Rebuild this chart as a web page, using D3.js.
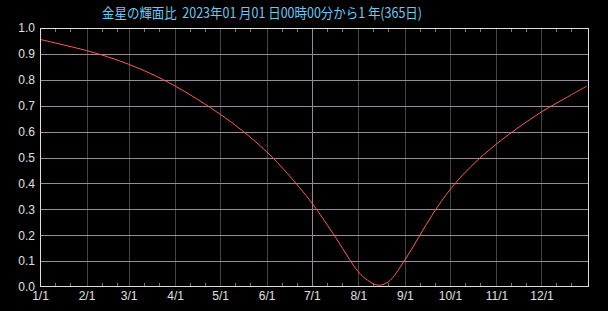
<!DOCTYPE html>
<html>
<head>
<meta charset="utf-8">
<script src="https://cdn.jsdelivr.net/npm/d3@7"></script>
<style>
  body { margin: 0; background: #000; }
  svg { display: block; }
</style>
</head>
<body>
<div id="root"></div>
<script>
// values
var dates = ["2023-01-01","2023-01-15","2023-02-01","2023-02-15","2023-03-01","2023-03-15",
             "2023-04-01","2023-04-15","2023-05-01","2023-05-15","2023-06-01","2023-06-15",
             "2023-07-01","2023-07-15","2023-08-01","2023-08-07","2023-08-14","2023-08-21",
             "2023-09-01","2023-09-10","2023-09-20","2023-10-01","2023-10-15","2023-11-01",
             "2023-11-15","2023-12-01","2023-12-15","2023-12-31"];
var phase = [0.956,0.937,0.913,0.889,0.860,0.826,
             0.776,0.728,0.667,0.607,0.522,0.437,
             0.325,0.208,0.059,0.027,0.007,0.020,
             0.104,0.190,0.285,0.375,0.465,0.552,
             0.613,0.676,0.723,0.775];
var yTicks = [0, 0.1, 0.2, 0.3, 0.4, 0.5, 0.6, 0.7, 0.8, 0.9, 1.0];
var title = "金星の輝面比\u00a0\u00a02023年01 月01 日00時00分から1 年(365日)";

var W = 608, H = 311;
var margin = {top: 28, right: 20, bottom: 24, left: 40},
    width = 548,
    height = 259;

var parse = d3.timeParse("%Y-%m-%d");
var data = dates.map(function (d, i) { return {date: parse(d), v: phase[i]}; });

var svg = d3.select("#root")
  .append("svg")
  .attr("width", W)
  .attr("height", H)
  .style("background", "#000");

svg.append("text")
  .attr("x", 102)
  .attr("y", 18)
  .attr("textLength", 320)
  .attr("lengthAdjust", "spacingAndGlyphs")
  .style("font-family", "'Noto Sans CJK JP', sans-serif")
  .style("font-size", "14px")
  .style("fill", "#66ccf6")
  .text(title);

var g = svg.append("g")
  .attr("transform", "translate(" + margin.left + "," + margin.top + ")");

var x = d3.scaleTime()
  .domain([new Date(2023, 0, 1), new Date(2024, 0, 1)])
  .range([0, width]);
var y = d3.scaleLinear()
  .domain([0, 1])
  .range([height, 0]);

var months = d3.timeMonth.range(new Date(2023, 0, 1), new Date(2024, 0, 1));
var minor = [];
months.forEach(function (m) {
  minor.push(new Date(2023, m.getMonth(), 11));
  minor.push(new Date(2023, m.getMonth(), 21));
});

// month grid lines
g.append("g").selectAll("line")
  .data(months.slice(1))
  .enter().append("line")
  .attr("x1", function (d) { return Math.round(x(d)) + 0.5; })
  .attr("x2", function (d) { return Math.round(x(d)) + 0.5; })
  .attr("y1", 0).attr("y2", height)
  .style("stroke", function (d) { return d.getMonth() === 6 ? "#9a8a9e" : "#444444"; })
  .style("stroke-width", 1);

// horizontal grid
g.append("g").selectAll("line")
  .data(yTicks.slice(1, -1))
  .enter().append("line")
  .attr("x1", 0).attr("x2", width)
  .attr("y1", function (d) { return Math.round(y(d)) + 0.5; })
  .attr("y2", function (d) { return Math.round(y(d)) + 0.5; })
  .style("stroke", "#9a8a9e")
  .style("stroke-width", 1);

// minor ticks top and bottom
var mt = g.append("g");
mt.selectAll("line.b")
  .data(minor).enter().append("line")
  .attr("x1", function (d) { return Math.round(x(d)) + 0.5; })
  .attr("x2", function (d) { return Math.round(x(d)) + 0.5; })
  .attr("y1", height - 4).attr("y2", height)
  .style("stroke", "#777");
mt.selectAll("line.t")
  .data(minor).enter().append("line")
  .attr("x1", function (d) { return Math.round(x(d)) + 0.5; })
  .attr("x2", function (d) { return Math.round(x(d)) + 0.5; })
  .attr("y1", 0).attr("y2", 4)
  .style("stroke", "#777");

// curve
g.append("path")
  .datum(data)
  .attr("fill", "none")
  .attr("stroke", "#ff5a5a")
  .attr("stroke-width", 1)
  .attr("d", d3.line()
    .curve(d3.curveCatmullRom.alpha(0.5))
    .x(function (d) { return x(d.date); })
    .y(function (d) { return y(d.v); }));

// frame
g.append("rect")
  .attr("x", 0.5).attr("y", 0.5)
  .attr("width", width).attr("height", height - 1)
  .attr("fill", "none")
  .style("stroke", "#dddddd");

// axes
var xAxis = g.append("g")
  .attr("transform", "translate(0," + height + ")")
  .call(d3.axisBottom(x).tickValues(months).tickFormat(d3.timeFormat("%-m/%-d")).tickSize(0).tickPadding(4));
var yAxis = g.append("g")
  .call(d3.axisLeft(y).tickValues(yTicks).tickFormat(d3.format(".1f")).tickSize(0).tickPadding(5));

[xAxis, yAxis].forEach(function (a) {
  a.select(".domain").remove();
  a.selectAll("text")
    .style("font-family", "'Liberation Sans', sans-serif")
    .style("font-size", "12px")
    .style("fill", "#e0e0e0");
});
</script>
</body>
</html>
